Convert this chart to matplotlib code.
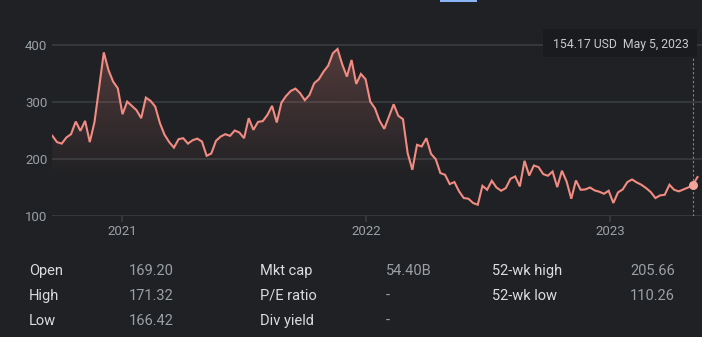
import numpy as np
import pandas as pd
import matplotlib
matplotlib.use("Agg")
import matplotlib.pyplot as plt
import matplotlib.dates as mdates
from matplotlib.patches import Rectangle, PathPatch
from matplotlib.path import Path

# Weekly closes (USD), Sept 2020 -> May 2023
prix = [
    240.6, 229.6, 227.0, 237.8, 243.6, 265.7, 249.4, 266.9, 229.6, 264.6,
    325.0, 387.0, 356.0, 335.7, 324.0, 278.6, 300.7, 293.2, 285.6, 271.6,
    307.7, 302.0, 292.0, 263.0, 242.4, 229.6, 220.0, 234.8, 236.5, 227.0,
    232.9, 235.8, 230.6, 205.6, 209.7, 231.9,
    239.4, 243.6, 240.6, 250.0, 246.5, 236.5, 271.6, 251.1, 265.2, 266.4,
    277.4, 293.2, 264.0, 299.0, 310.7, 319.4, 323.5, 315.4, 303.2, 312.4,
    332.9, 339.9, 353.2, 363.7, 385.5, 393.0, 366.2, 344.5, 373.7, 331.7,
    349.2, 339.9, 300.7, 289.0,
    266.9, 252.9, 274.4, 296.0, 275.7, 269.9, 210.3, 181.0, 224.9, 222.0,
    236.5, 209.0, 199.8, 175.3, 172.3, 156.0, 159.5, 143.2, 131.5, 130.3,
    122.8, 119.8, 153.0, 146.0, 161.8, 150.0, 144.3, 149.0, 165.3, 169.4,
    151.9, 196.8,
    171.0, 188.6, 185.8, 173.5, 170.6, 178.0, 150.7, 179.4, 160.6, 130.3,
    162.4, 146.0, 146.6, 150.0, 144.9, 142.6, 139.0, 144.3, 122.8, 141.4,
    146.6, 159.5, 164.1, 158.9, 154.8, 149.0, 142.0, 131.5, 136.1, 137.3,
    154.8, 146.0, 143.2, 146.6, 150.0, 154.17, 168.3,
]
dates = pd.date_range("2020-09-18", periods=len(prix), freq="7D")

yticks = [100, 200, 300, 400]
annees = ["2021-01-01", "2022-01-01", "2023-01-01"]
annees_labels = ["2021", "2022", "2023"]

survol_index = len(prix) - 2
survol_texte = "154.17 USD  May 5, 2023"

stats_labels_1 = ["Open", "High", "Low"]
stats_valeurs_1 = ["169.20", "171.32", "166.42"]
stats_labels_2 = ["Mkt cap", "P/E ratio", "Div yield"]
stats_valeurs_2 = ["54.40B", "-", "-"]
stats_labels_3 = ["52-wk high", "52-wk low"]
stats_valeurs_3 = ["205.66", "110.26"]

# Couleurs
fond = "#202124"
grille = "#3c4043"
gris = "#9aa0a6"
rouge = "#f28b82"

W, H = 702, 337
plt.rcParams["font.family"] = ["Roboto", "DejaVu Sans"]

fig = plt.figure(figsize=(W / 100, H / 100), dpi=100, facecolor=fond)


def px(x, y):
    # pixel (haut-gauche) -> fraction de figure
    return x / W, 1 - y / H


ax = fig.add_axes([52 / W, 1 - 216 / H, 650 / W, 186 / H])
ax.set_facecolor(fond)
for s in ax.spines.values():
    s.set_visible(False)

x = mdates.date2num(dates)
y = np.array(prix)

ppd = 243.75 / 365.0
x2021 = mdates.date2num(pd.Timestamp("2021-01-01"))
xmin = x2021 - 70.5 / ppd
xmax = x2021 + 579.5 / ppd
ytop = 400 + 15 / 0.57
ax.set_xlim(xmin, xmax)
ax.set_ylim(100, ytop)

# grille horizontale
for t in yticks:
    ax.axhline(t, color=grille, lw=1.1, zorder=1)

# remplissage en degrade sous la courbe
base = 165
coll = ax.fill_between(x, y, base, where=y >= base, interpolate=True,
                       facecolor="none", edgecolor="none")
chemin = Path.make_compound_path(*coll.get_paths())
n = 256
grad = np.zeros((n, 1, 4))
r, g, b = matplotlib.colors.to_rgb(rouge)
grad[:, 0, 0], grad[:, 0, 1], grad[:, 0, 2] = r, g, b
grad[:, 0, 3] = np.linspace(0.0, 0.25, n)
im = ax.imshow(grad, extent=[xmin, xmax, base, 400], origin="lower",
               aspect="auto", zorder=2, interpolation="bilinear")
patch = PathPatch(chemin, transform=ax.transData, facecolor="none", edgecolor="none")
ax.add_patch(patch)
im.set_clip_path(patch)

ax.plot(x, y, color=rouge, lw=1.5, zorder=4, solid_joinstyle="miter")

# point survole
xs, ys = x[survol_index], y[survol_index]
ax.plot([xs, xs], [100, ytop - 27 / 0.57], color="#80868b", lw=0.8,
        ls=(0, (2, 2)), zorder=3)
ax.plot(xs, ys, "o", color="#f5a49c", ms=6.5, zorder=5, mec="none")

ax.set_yticks(yticks)
ax.set_yticklabels([str(t) for t in yticks])
ax.set_xticks(mdates.date2num(pd.to_datetime(annees)))
ax.set_xticklabels(annees_labels)
ax.tick_params(axis="y", length=0, pad=3.2, labelsize=9.5, labelcolor=gris)
ax.tick_params(axis="x", length=4.3, width=1.1, color=grille, pad=2.5,
               labelsize=9.5, labelcolor=gris)

# infobulle
fig.patches.append(Rectangle(px(543, 57), 154 / W, 28 / H, transform=fig.transFigure,
                             facecolor="#1a1b1e", edgecolor="none", zorder=5))
fig.text(*px(553, 44.3), survol_texte, color="#c8cacd", fontsize=8.8,
         ha="left", va="center", zorder=6)

# onglet bleu en haut
fig.patches.append(Rectangle(px(440, 1.6), 37 / W, 1.6 / H, transform=fig.transFigure,
                             facecolor="#8ab4f8", edgecolor="none"))

# tableau des statistiques
lignes_y = [271, 296, 321]
colonnes = [
    (29, 129, stats_labels_1, stats_valeurs_1),
    (260, 386, stats_labels_2, stats_valeurs_2),
    (492, 630, stats_labels_3, stats_valeurs_3),
]
for xl, xv, labels, valeurs in colonnes:
    for i, (lab, val) in enumerate(zip(labels, valeurs)):
        fig.text(*px(xl, lignes_y[i]), lab, color="#dadce0", fontsize=10.5,
                 ha="left", va="center")
        fig.text(*px(xv, lignes_y[i]), val, color=gris, fontsize=10.5,
                 ha="left", va="center")

fig.savefig("out.png", dpi=100, facecolor=fond)
